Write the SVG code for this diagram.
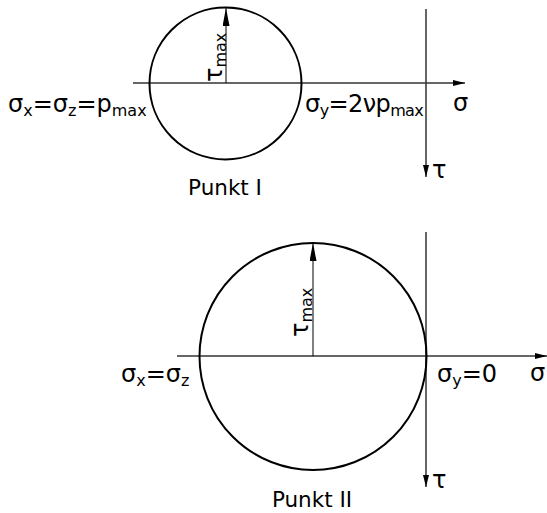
<svg xmlns="http://www.w3.org/2000/svg" width="547" height="513" viewBox="0 0 547 513">
<style>
text{font-family:"DejaVu Sans","Liberation Sans",sans-serif;font-size:24px;fill:#000}
.sub{font-size:16px}
.cap{font-size:21.5px}
.axis{stroke:#333;stroke-width:1.5;fill:none}
.circ{stroke:#000;stroke-width:2;fill:none}
.rad{stroke:#000;stroke-width:1;fill:none}
</style>
<defs>
<marker id="ah" markerUnits="userSpaceOnUse" markerWidth="12" markerHeight="6" refX="12" refY="3" orient="auto"><path d="M0,0 L12,3 L0,6 z" fill="#000"/></marker>
<marker id="rh" markerUnits="userSpaceOnUse" markerWidth="18" markerHeight="7" refX="18" refY="3.5" orient="auto"><path d="M0,0 L18,3.5 L0,7 z" fill="#000"/></marker>
</defs>
<g id="connectors">
<line class="axis" x1="133" y1="83" x2="465" y2="83" marker-end="url(#ah)"/>
<line class="axis" x1="426" y1="9" x2="426" y2="177" marker-end="url(#ah)"/>
<line class="rad" x1="226" y1="83" x2="226" y2="8" marker-end="url(#rh)"/>
<line class="axis" x1="177" y1="356" x2="547" y2="356" marker-end="url(#ah)"/>
<line class="axis" x1="426" y1="232" x2="426" y2="487" marker-end="url(#ah)"/>
<line class="rad" x1="313" y1="356" x2="313" y2="243" marker-end="url(#rh)"/>
</g>
<g id="circle1"><circle class="circ" cx="225.5" cy="83.5" r="76"/></g>
<g id="circle2"><circle class="circ" cx="313" cy="356.5" r="113.5"/></g>
<g id="labels1">
<text x="8" y="112">σ<tspan class="sub" dy="4">x</tspan><tspan dy="-4">=σ</tspan><tspan class="sub" dy="4">z</tspan><tspan dy="-4">=p</tspan><tspan class="sub" dy="4">max</tspan></text>
<text x="305" y="112" letter-spacing="-0.6">σ<tspan class="sub" dy="4">y</tspan><tspan dy="-4">=2νp</tspan><tspan class="sub" dy="4">max</tspan></text>
<text x="453" y="111">σ</text>
<text x="432" y="178">τ</text>
<text transform="translate(222,82) rotate(-90)">τ<tspan class="sub" dy="4">max</tspan></text>
<text class="cap" x="225" y="195" text-anchor="middle">Punkt I</text>
</g>
<g id="labels2">
<text x="121" y="382">σ<tspan class="sub" dy="4">x</tspan><tspan dy="-4">=σ</tspan><tspan class="sub" dy="4">z</tspan></text>
<text x="437" y="382">σ<tspan class="sub" dy="4">y</tspan><tspan dy="-4">=0</tspan></text>
<text x="530" y="381">σ</text>
<text x="432" y="488">τ</text>
<text transform="translate(308,337) rotate(-90)">τ<tspan class="sub" dy="4">max</tspan></text>
<text class="cap" x="312" y="507" text-anchor="middle">Punkt II</text>
</g>
</svg>
